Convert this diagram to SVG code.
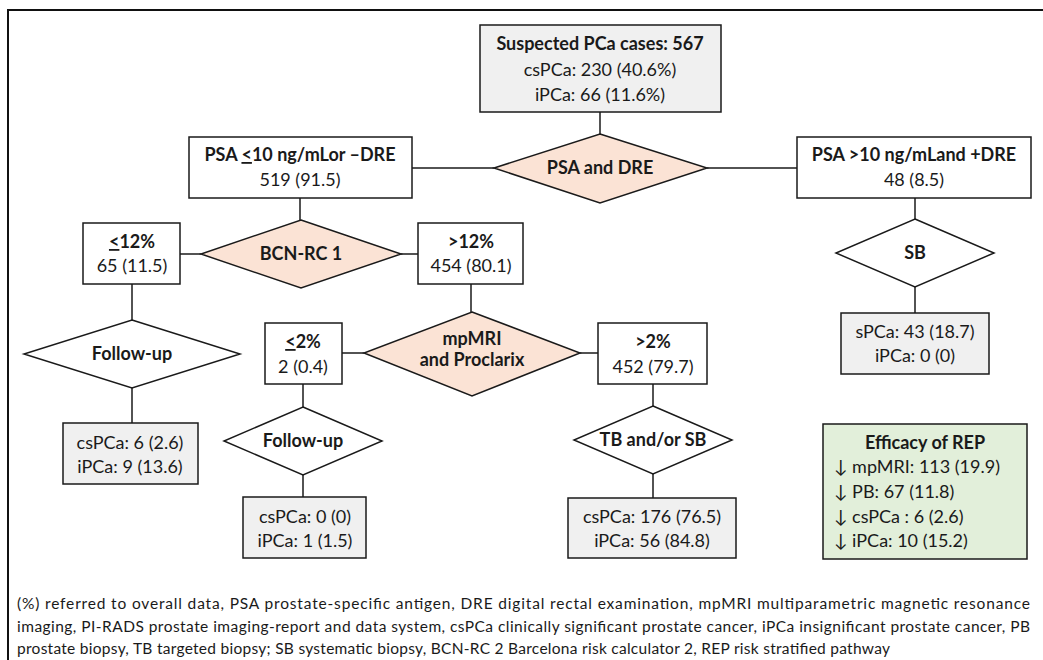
<svg xmlns="http://www.w3.org/2000/svg" width="1043" height="660" viewBox="0 0 1043 660">
<style>
text{font-family:Lato,"Liberation Sans",sans-serif;font-size:18px;fill:#1a1a1a;text-anchor:middle}
.b{font-weight:bold}
.box{fill:#fff;stroke:#1a1a1a;stroke-width:1.5}
.gray{fill:#f0f0f0;stroke:#1a1a1a;stroke-width:1.5}
.green{fill:#e2efda;stroke:#1a1a1a;stroke-width:1.5}
.dia{fill:#fbe3d5;stroke:#1a1a1a;stroke-width:1.5}
.diaw{fill:#fff;stroke:#1a1a1a;stroke-width:1.5}
.conn line{stroke:#1a1a1a;stroke-width:1.5}
.frame{fill:none;stroke:#111;stroke-width:2}
.cap{font-size:15.5px;text-anchor:start}
.left{text-anchor:start}
</style>
<rect width="1043" height="660" fill="#fff"/>
<path class="frame" d="M8,660 V10 H1043"/>
<g class="conn">
<line x1="600" y1="112" x2="600" y2="134"/>
<line x1="412" y1="168" x2="494" y2="168"/>
<line x1="707" y1="168" x2="797" y2="168"/>
<line x1="300" y1="198" x2="300" y2="220"/>
<line x1="180" y1="254" x2="201" y2="254"/>
<line x1="401" y1="254" x2="418" y2="254"/>
<line x1="915" y1="198" x2="915" y2="219"/>
<line x1="915" y1="287" x2="915" y2="313"/>
<line x1="132" y1="284" x2="132" y2="320"/>
<line x1="132" y1="388" x2="132" y2="423"/>
<line x1="471" y1="284" x2="471" y2="312"/>
<line x1="342" y1="353" x2="364" y2="353"/>
<line x1="580" y1="353" x2="598" y2="353"/>
<line x1="303" y1="384" x2="303" y2="407"/>
<line x1="303" y1="475" x2="303" y2="497"/>
<line x1="653" y1="384" x2="653" y2="406"/>
<line x1="653" y1="474" x2="653" y2="498"/>
</g>
<g id="suspected">
<rect class="gray" x="480" y="25" width="241" height="87"/>
<text class="b" x="600" y="50">Suspected PCa cases: 567</text>
<text x="600" y="76">csPCa: 230 (40.6%)</text>
<text x="600" y="101">iPCa: 66 (11.6%)</text>
</g>
<g id="psa-dre">
<polygon class="dia" points="600,134 707,168 600,203 494,168"/>
<text class="b" x="600" y="174">PSA and DRE</text>
</g>
<g id="psa-low">
<rect class="box" x="189" y="137" width="223" height="61"/>
<text class="b" x="300" y="161">PSA <tspan text-decoration="underline">&lt;</tspan>10 ng/mLor –DRE</text>
<text x="300" y="186">519 (91.5)</text>
</g>
<g id="psa-high">
<rect class="box" x="797" y="137" width="234" height="61"/>
<text class="b" x="914" y="161">PSA &gt;10 ng/mLand +DRE</text>
<text x="914" y="186">48 (8.5)</text>
</g>
<g id="bcn">
<polygon class="dia" points="301,220 401,254 301,288 201,254"/>
<text class="b" x="301" y="260">BCN-RC 1</text>
</g>
<g id="le12">
<rect class="box" x="83" y="223" width="97" height="61"/>
<text class="b" x="132" y="248"><tspan text-decoration="underline">&lt;</tspan>12%</text>
<text x="132" y="272">65 (11.5)</text>
</g>
<g id="gt12">
<rect class="box" x="418" y="223" width="105" height="61"/>
<text class="b" x="471" y="248">&gt;12%</text>
<text x="471" y="272">454 (80.1)</text>
</g>
<g id="sb">
<polygon class="diaw" points="915,219 994,253 915,287 836,253"/>
<text class="b" x="915" y="259">SB</text>
</g>
<g id="sb-result">
<rect class="gray" x="841" y="313" width="148" height="61"/>
<text x="915" y="338">sPCa: 43 (18.7)</text>
<text x="915" y="362">iPCa: 0 (0)</text>
</g>
<g id="followup1">
<polygon class="diaw" points="132,320 240,354 132,388 24,354"/>
<text class="b" x="132" y="360">Follow-up</text>
</g>
<g id="result1">
<rect class="gray" x="63" y="423" width="135" height="61"/>
<text x="130" y="449">csPCa: 6 (2.6)</text>
<text x="130" y="473">iPCa: 9 (13.6)</text>
</g>
<g id="le2">
<rect class="box" x="265" y="323" width="77" height="61"/>
<text class="b" x="303" y="348"><tspan text-decoration="underline">&lt;</tspan>2%</text>
<text x="303" y="373">2 (0.4)</text>
</g>
<g id="mpmri">
<polygon class="dia" points="472,312 580,353 472,396 364,353"/>
<text class="b" x="472" y="345">mpMRI</text>
<text class="b" x="472" y="366">and Proclarix</text>
</g>
<g id="gt2">
<rect class="box" x="598" y="323" width="109" height="61"/>
<text class="b" x="653" y="348">&gt;2%</text>
<text x="653" y="373">452 (79.7)</text>
</g>
<g id="followup2">
<polygon class="diaw" points="303,407 382,441 303,475 224,441"/>
<text class="b" x="303" y="447">Follow-up</text>
</g>
<g id="result2">
<rect class="gray" x="243" y="497" width="123" height="61"/>
<text x="305" y="523">csPCa: 0 (0)</text>
<text x="305" y="547">iPCa: 1 (1.5)</text>
</g>
<g id="tb">
<polygon class="diaw" points="653,406 732,440 653,474 574,440"/>
<text class="b" x="653" y="446">TB and/or SB</text>
</g>
<g id="result3">
<rect class="gray" x="568" y="498" width="168" height="60"/>
<text x="652" y="523">csPCa: 176 (76.5)</text>
<text x="652" y="547">iPCa: 56 (84.8)</text>
</g>
<g id="efficacy">
<rect class="green" x="823" y="424" width="204" height="135"/>
<text class="b" x="925" y="449">Efficacy of REP</text>
<text class="left" x="834" y="473">↓ mpMRI: 113 (19.9)</text>
<text class="left" x="834" y="498">↓ PB: 67 (11.8)</text>
<text class="left" x="834" y="523">↓ csPCa : 6 (2.6)</text>
<text class="left" x="834" y="547">↓ iPCa: 10 (15.2)</text>
</g>
<g id="caption">
<text class="cap" x="17" y="609" textLength="1013" lengthAdjust="spacing">(%) referred to overall data, PSA prostate-specific antigen, DRE digital rectal examination, mpMRI multiparametric magnetic resonance</text>
<text class="cap" x="17" y="632" textLength="1013" lengthAdjust="spacing">imaging, PI-RADS prostate imaging-report and data system, csPCa clinically significant prostate cancer, iPCa insignificant prostate cancer, PB</text>
<text class="cap" x="17" y="654" textLength="873" lengthAdjust="spacing">prostate biopsy, TB targeted biopsy; SB systematic biopsy, BCN-RC 2 Barcelona risk calculator 2, REP risk stratified pathway</text>
</g>
</svg>
